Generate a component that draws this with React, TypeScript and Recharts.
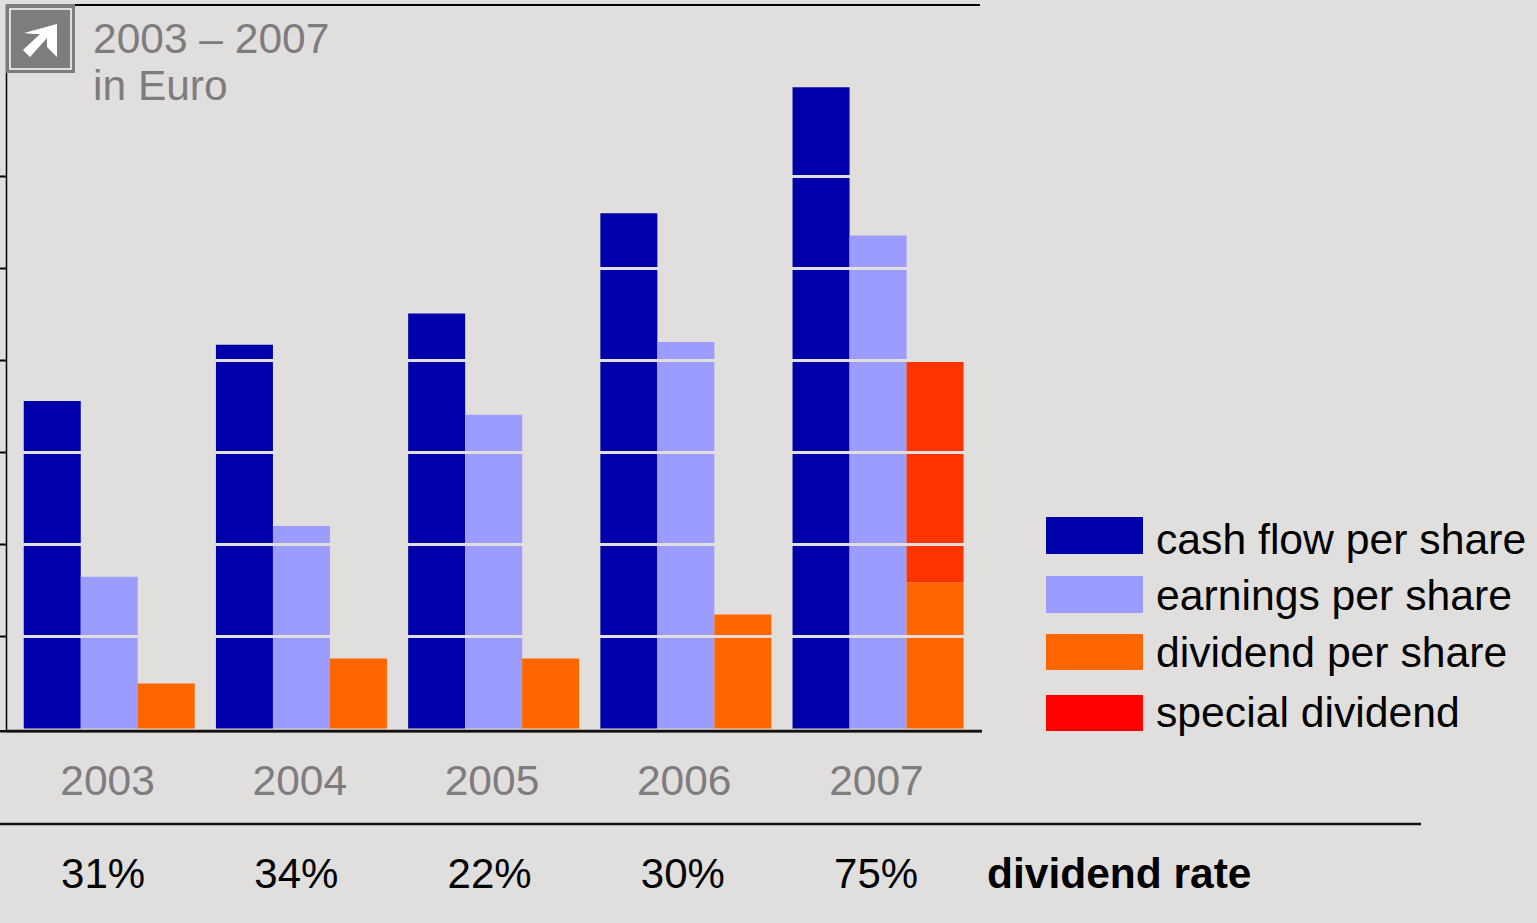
import React from "react";
import { BarChart, Bar, XAxis, YAxis, ReferenceLine, Legend } from "recharts";

const years = ["2003", "2004", "2005", "2006", "2007"];
const rates = ["31%", "34%", "22%", "30%", "75%"];
const cashFlow = [3.56, 4.17, 4.51, 5.6, 6.97];
const earnings = [1.65, 2.2, 3.41, 4.2, 5.36];
const dividend = [0.49, 0.76, 0.76, 1.24, 1.59];
const special = [0, 0, 0, 0, 2.4];
const yTicks = [1, 2, 3, 4, 5, 6];

const data = years.map((year, i) => ({
  year,
  rate: rates[i],
  cashFlow: cashFlow[i],
  earnings: earnings[i],
  dividend: dividend[i],
  special: special[i],
}));

const BG = "#e0dfdd";
const GREY = "#7f7c80";
const FONT = '"Liberation Sans", Arial, sans-serif';
const legendColors = ["#0000aa", "#9c9cff", "#ff6600", "#ff0000"];
const legendTops = [517, 576, 634, 695];
const legendHeights = [37, 37, 36, 36];
const legendTextTops = [515, 571, 628, 688];

const renderLegend = (props: any) => (
  <div>
    {props.payload.map((p: any, i: number) => (
      <React.Fragment key={p.value}>
        <div style={{ position: "absolute", left: 1046, top: legendTops[i], width: 97, height: legendHeights[i], background: legendColors[i] }} />
        <div style={{ position: "absolute", left: 1156, top: legendTextTops[i], fontFamily: FONT, fontSize: 42.7, lineHeight: "48px", color: "#000", whiteSpace: "nowrap" }}>
          {p.value}
        </div>
      </React.Fragment>
    ))}
  </div>
);

export default function App() {
  return (
    <div style={{ position: "fixed", left: 0, top: 0, width: 1537, height: 923, background: BG, overflow: "hidden" }}>
      <BarChart
        width={1537}
        height={923}
        data={data}
        margin={{ top: 5, right: 555, bottom: 0, left: 0 }}
        barCategoryGap={10.75}
        barGap={0}
      >
        <Bar dataKey="cashFlow" name="cash flow per share" fill="#0000aa" stackId="a" isAnimationActive={false} />
        <Bar dataKey="earnings" name="earnings per share" fill="#9c9cff" stackId="b" isAnimationActive={false} />
        <Bar dataKey="dividend" name="dividend per share" fill="#ff6600" stackId="c" isAnimationActive={false} />
        <Bar dataKey="special" name="special dividend" fill="#ff3300" stackId="c" isAnimationActive={false} />
        <YAxis
          width={6.5}
          domain={[-0.027, 7.864]}
          ticks={yTicks}
          allowDataOverflow
          tickFormatter={() => ""}
          tickSize={6.5}
          tickLine={{ stroke: "#000", strokeWidth: 2 }}
          axisLine={{ stroke: "#000", strokeWidth: 1.5 }}
        />
        <XAxis
          xAxisId={0}
          dataKey="year"
          height={93}
          padding={{ left: 6.5, right: 8 }}
          axisLine={{ stroke: "#111", strokeWidth: 2.5 }}
          tickLine={false}
          tick={{ fill: GREY, fontSize: 42.5, fontFamily: FONT, dx: -1.5, dy: 26 }}
          interval={0}
        />
        <XAxis
          xAxisId="rate"
          dataKey="rate"
          height={99}
          padding={{ left: 0, right: 9.25 }}
          axisLine={false}
          tickLine={false}
          tick={{ fill: "#000", fontSize: 42, fontFamily: FONT, dy: 26 }}
          interval={0}
        />
        {yTicks.map((t) => (
          <ReferenceLine key={t} y={t} stroke={BG} strokeWidth={3} />
        ))}
        <Legend itemSorter={null} content={renderLegend} wrapperStyle={{ position: "absolute", left: 0, top: 0, width: 0, height: 0 }} />
      </BarChart>
      <svg width={1537} height={923} style={{ position: "absolute", left: 0, top: 0, pointerEvents: "none" }}>
        <line x1={6} y1={5} x2={980} y2={5} stroke="#000" strokeWidth={2} />
        <line x1={0} y1={731.25} x2={982} y2={731.25} stroke="#111" strokeWidth={2.5} />
        <line x1={0} y1={824} x2={1421} y2={824} stroke="#111" strokeWidth={2.5} />
        <rect x={6} y={4} width={69} height={69} fill={GREY} />
        <rect x={10} y={9} width={61} height={60} fill="none" stroke="#fff" strokeWidth={1.5} />
        <polygon points="24,33 57,24 57,57 47,47 47,38 30,57 23,50 40,34 33,34" fill="#fff" />
        <text x={93} y={53} fontFamily={FONT} fontSize={42.5} fill={GREY}>2003 – 2007</text>
        <text x={93} y={100} fontFamily={FONT} fontSize={42.5} fill={GREY}>in Euro</text>
        <text x={987} y={888} fontFamily={FONT} fontSize={42.5} fontWeight="bold" fill="#000">dividend rate</text>
      </svg>
    </div>
  );
}
